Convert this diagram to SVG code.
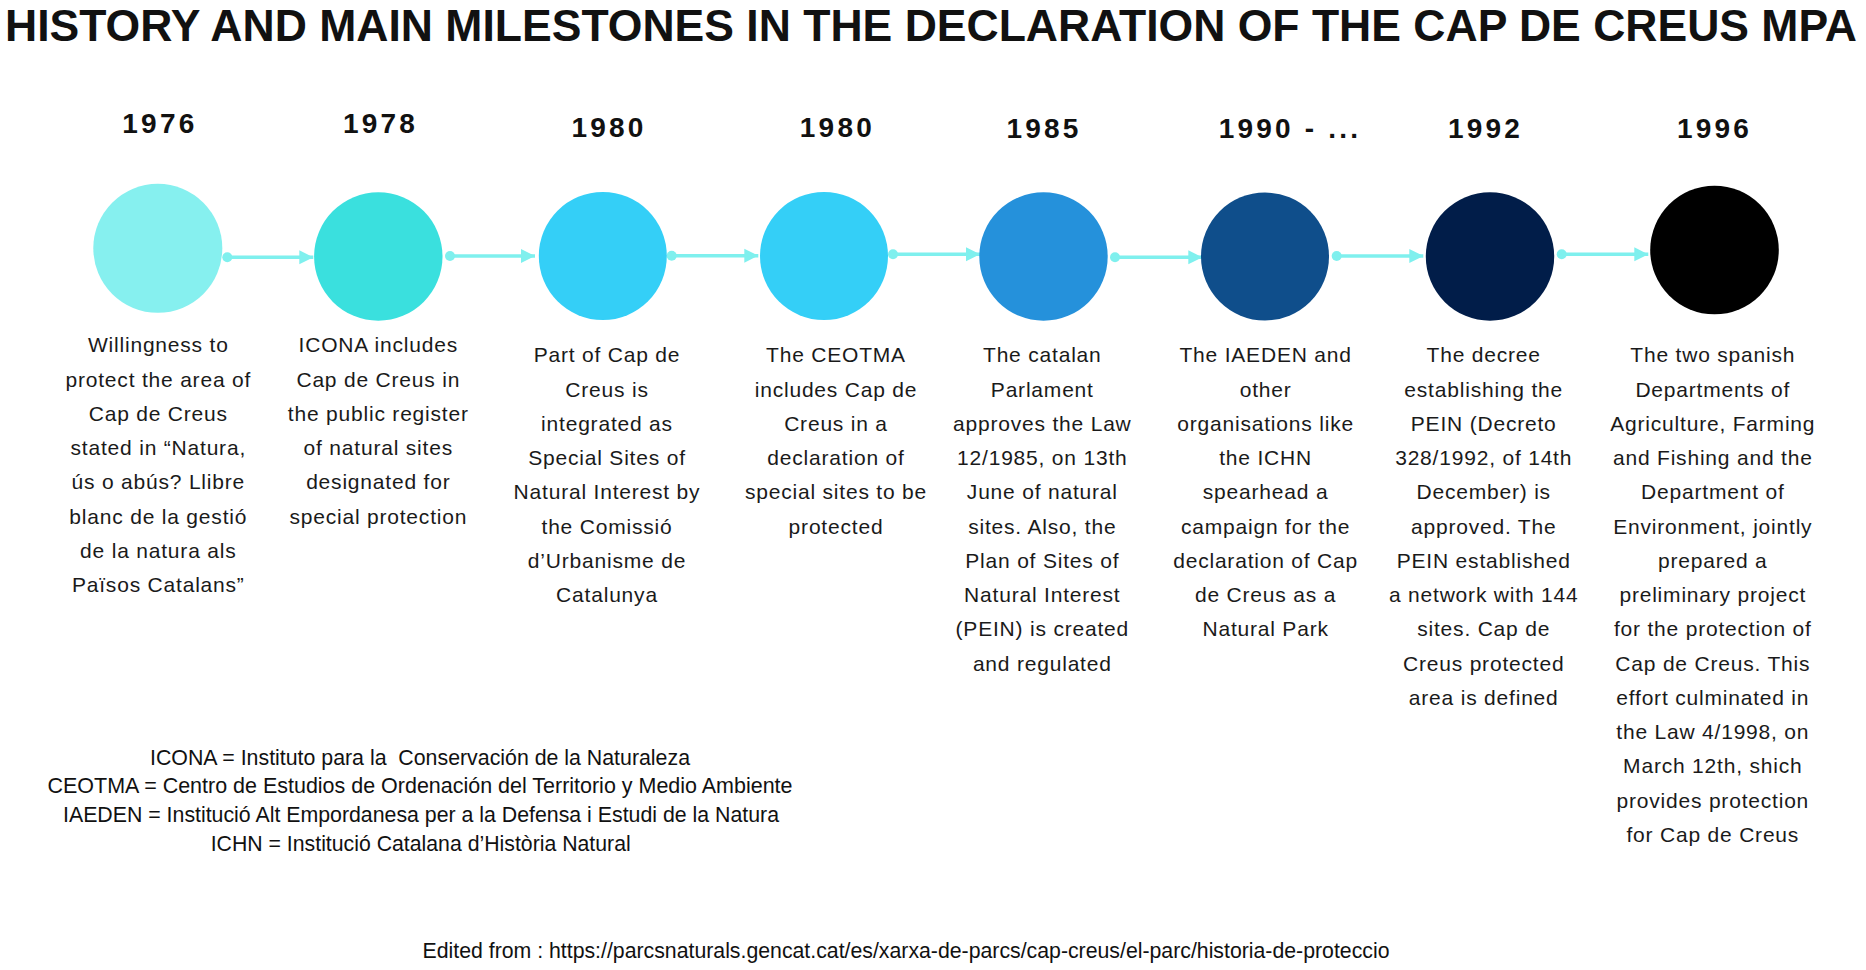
<svg xmlns="http://www.w3.org/2000/svg" width="1866" height="970" viewBox="0 0 1866 970">
<defs>
<style>
.title{font-family:"Liberation Sans",Arial,sans-serif;font-weight:bold;font-size:45px;fill:#111;}
.year{font-family:"Liberation Sans",Arial,sans-serif;font-weight:bold;font-size:28px;letter-spacing:3.2px;fill:#111;text-anchor:middle;}
.desc{font-family:"Liberation Sans",Arial,sans-serif;font-size:21px;letter-spacing:0.8px;fill:#1a1a1a;text-anchor:middle;}
.leg{font-family:"Liberation Sans Narrow","Liberation Sans",Arial,sans-serif;font-size:21.5px;fill:#111;text-anchor:middle;white-space:pre;}
.conn line{stroke:#7ff0ee;stroke-width:3.5;}
.conn circle{fill:#7ff0ee;}
</style>
<marker id="ah" viewBox="0 0 10 10" refX="10" refY="5" markerWidth="4" markerHeight="4.4" markerUnits="strokeWidth" orient="auto">
<path d="M0,0 L10,5 L0,10 z" fill="#7ff0ee"/>
</marker>
</defs>
<rect width="1866" height="970" fill="#fff"/>
<text class="title" x="5" y="41" textLength="1852" lengthAdjust="spacingAndGlyphs">HISTORY AND MAIN MILESTONES IN THE DECLARATION OF THE CAP DE CREUS MPA</text>

<g id="connectors" class="conn">
<circle cx="227.3" cy="257.3" r="5"/><line x1="227.3" y1="257.3" x2="313.3" y2="257.3" marker-end="url(#ah)"/>
<circle cx="450" cy="256" r="5"/><line x1="450" y1="256" x2="535" y2="256" marker-end="url(#ah)"/>
<circle cx="671.7" cy="255.7" r="5"/><line x1="671.7" y1="255.7" x2="758.3" y2="255.7" marker-end="url(#ah)"/>
<circle cx="893" cy="254.3" r="5"/><line x1="893" y1="254.3" x2="980" y2="254.3" marker-end="url(#ah)"/>
<circle cx="1115" cy="257.3" r="5"/><line x1="1115" y1="257.3" x2="1202.3" y2="257.3" marker-end="url(#ah)"/>
<circle cx="1336.7" cy="256" r="5"/><line x1="1336.7" y1="256" x2="1423.3" y2="256" marker-end="url(#ah)"/>
<circle cx="1561.7" cy="254.3" r="5"/><line x1="1561.7" y1="254.3" x2="1648.3" y2="254.3" marker-end="url(#ah)"/>
</g>

<g id="m1976">
<text class="year" x="159.9" y="133.3">1976</text>
<circle cx="157.8" cy="248.3" r="64.5" fill="#86f0ef"/>
<text class="desc" y="352.3"><tspan x="158.3">Willingness to</tspan><tspan x="158.3" dy="34.25">protect the area of</tspan><tspan x="158.3" dy="34.25">Cap de Creus</tspan><tspan x="158.3" dy="34.25">stated in “Natura,</tspan><tspan x="158.3" dy="34.25">ús o abús? Llibre</tspan><tspan x="158.3" dy="34.25">blanc de la gestió</tspan><tspan x="158.3" dy="34.25">de la natura als</tspan><tspan x="158.3" dy="34.25">Països Catalans”</tspan></text>
</g>

<g id="m1978">
<text class="year" x="380.6" y="133.3">1978</text>
<circle cx="378.3" cy="256.5" r="64.2" fill="#3ae0de"/>
<text class="desc" y="352.3"><tspan x="378.3">ICONA includes</tspan><tspan x="378.3" dy="34.25">Cap de Creus in</tspan><tspan x="378.3" dy="34.25">the public register</tspan><tspan x="378.3" dy="34.25">of natural sites</tspan><tspan x="378.3" dy="34.25">designated for</tspan><tspan x="378.3" dy="34.25">special protection</tspan></text>
</g>

<g id="m1980a">
<text class="year" x="609.1" y="137.3">1980</text>
<circle cx="602.8" cy="256" r="64" fill="#34cff7"/>
<text class="desc" y="362.3"><tspan x="607">Part of Cap de</tspan><tspan x="607" dy="34.25">Creus is</tspan><tspan x="607" dy="34.25">integrated as</tspan><tspan x="607" dy="34.25">Special Sites of</tspan><tspan x="607" dy="34.25">Natural Interest by</tspan><tspan x="607" dy="34.25">the Comissió</tspan><tspan x="607" dy="34.25">d’Urbanisme de</tspan><tspan x="607" dy="34.25">Catalunya</tspan></text>
</g>

<g id="m1980b">
<text class="year" x="837.4" y="137.3">1980</text>
<circle cx="824" cy="256" r="64" fill="#34cff7"/>
<text class="desc" y="362.3"><tspan x="836">The CEOTMA</tspan><tspan x="836" dy="34.25">includes Cap de</tspan><tspan x="836" dy="34.25">Creus in a</tspan><tspan x="836" dy="34.25">declaration of</tspan><tspan x="836" dy="34.25">special sites to be</tspan><tspan x="836" dy="34.25">protected</tspan></text>
</g>

<g id="m1985">
<text class="year" x="1044.1" y="137.8">1985</text>
<circle cx="1043.5" cy="256.5" r="64.2" fill="#2591db"/>
<text class="desc" y="362.3"><tspan x="1042.3">The catalan</tspan><tspan x="1042.3" dy="34.25">Parlament</tspan><tspan x="1042.3" dy="34.25">approves the Law</tspan><tspan x="1042.3" dy="34.25">12/1985, on 13th</tspan><tspan x="1042.3" dy="34.25">June of natural</tspan><tspan x="1042.3" dy="34.25">sites. Also, the</tspan><tspan x="1042.3" dy="34.25">Plan of Sites of</tspan><tspan x="1042.3" dy="34.25">Natural Interest</tspan><tspan x="1042.3" dy="34.25">(PEIN) is created</tspan><tspan x="1042.3" dy="34.25">and regulated</tspan></text>
</g>

<g id="m1990">
<text class="year" x="1289.9" y="137.8">1990 - ...</text>
<circle cx="1265" cy="256.5" r="64" fill="#0f4e8b"/>
<text class="desc" y="362.3"><tspan x="1265.6">The IAEDEN and</tspan><tspan x="1265.6" dy="34.25">other</tspan><tspan x="1265.6" dy="34.25">organisations like</tspan><tspan x="1265.6" dy="34.25">the ICHN</tspan><tspan x="1265.6" dy="34.25">spearhead a</tspan><tspan x="1265.6" dy="34.25">campaign for the</tspan><tspan x="1265.6" dy="34.25">declaration of Cap</tspan><tspan x="1265.6" dy="34.25">de Creus as a</tspan><tspan x="1265.6" dy="34.25">Natural Park</tspan></text>
</g>

<g id="m1992">
<text class="year" x="1485.6" y="137.8">1992</text>
<circle cx="1490" cy="256.5" r="64.2" fill="#011d49"/>
<text class="desc" y="362.3"><tspan x="1483.7">The decree</tspan><tspan x="1483.7" dy="34.25">establishing the</tspan><tspan x="1483.7" dy="34.25">PEIN (Decreto</tspan><tspan x="1483.7" dy="34.25">328/1992, of 14th</tspan><tspan x="1483.7" dy="34.25">December) is</tspan><tspan x="1483.7" dy="34.25">approved. The</tspan><tspan x="1483.7" dy="34.25">PEIN established</tspan><tspan x="1483.7" dy="34.25">a network with 144</tspan><tspan x="1483.7" dy="34.25">sites. Cap de</tspan><tspan x="1483.7" dy="34.25">Creus protected</tspan><tspan x="1483.7" dy="34.25">area is defined</tspan></text>
</g>

<g id="m1996">
<text class="year" x="1714.6" y="137.8">1996</text>
<circle cx="1714.5" cy="250" r="64.3" fill="#000"/>
<text class="desc" y="362.3"><tspan x="1712.8">The two spanish</tspan><tspan x="1712.8" dy="34.25">Departments of</tspan><tspan x="1712.8" dy="34.25">Agriculture, Farming</tspan><tspan x="1712.8" dy="34.25">and Fishing and the</tspan><tspan x="1712.8" dy="34.25">Department of</tspan><tspan x="1712.8" dy="34.25">Environment, jointly</tspan><tspan x="1712.8" dy="34.25">prepared a</tspan><tspan x="1712.8" dy="34.25">preliminary project</tspan><tspan x="1712.8" dy="34.25">for the protection of</tspan><tspan x="1712.8" dy="34.25">Cap de Creus. This</tspan><tspan x="1712.8" dy="34.25">effort culminated in</tspan><tspan x="1712.8" dy="34.25">the Law 4/1998, on</tspan><tspan x="1712.8" dy="34.25">March 12th, shich</tspan><tspan x="1712.8" dy="34.25">provides protection</tspan><tspan x="1712.8" dy="34.25">for Cap de Creus</tspan></text>
</g>

<g id="legend">
<text class="leg" x="420" y="764.5" textLength="540" lengthAdjust="spacingAndGlyphs" xml:space="preserve">ICONA = Instituto para la  Conservación de la Naturaleza</text>
<text class="leg" x="420" y="793" textLength="745" lengthAdjust="spacingAndGlyphs">CEOTMA = Centro de Estudios de Ordenación del Territorio y Medio Ambiente</text>
<text class="leg" x="421" y="821.5" textLength="716" lengthAdjust="spacingAndGlyphs">IAEDEN = Institució Alt Empordanesa per a la Defensa i Estudi de la Natura</text>
<text class="leg" x="420.7" y="851.3" textLength="420" lengthAdjust="spacingAndGlyphs">ICHN = Institució Catalana d’Història Natural</text>
</g>

<g id="footer">
<text class="leg" x="906" y="958" textLength="967" lengthAdjust="spacingAndGlyphs">Edited from : https://parcsnaturals.gencat.cat/es/xarxa-de-parcs/cap-creus/el-parc/historia-de-proteccio</text>
</g>
</svg>
